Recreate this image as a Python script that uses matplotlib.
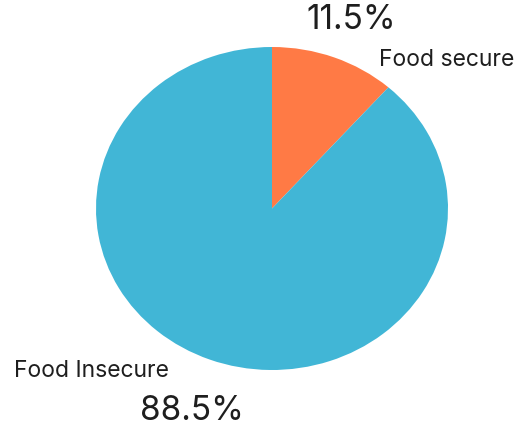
import matplotlib
matplotlib.use("Agg")
import matplotlib.pyplot as plt

# Data
labels = ["Food secure", "Food Insecure"]
shares = [11.5, 88.5]
colors = ["#FF7A45", "#41B6D6"]

W, H = 521, 428
fig = plt.figure(figsize=(W / 100, H / 100), dpi=100)
plt.rcParams['font.family'] = ['Inter', 'DejaVu Sans']

# pie axes placed so the (slightly squashed) pie fills the same box as the reference
ax = fig.add_axes([96 / W, (H - 370) / H, 352 / W, 323 / H])
ax.pie(shares, colors=colors, startangle=90, counterclock=False,
       wedgeprops=dict(linewidth=0))
ax.set_xlim(-1, 1)
ax.set_ylim(-1, 1)
ax.set_aspect('auto')
ax.axis('off')

# labels and percentages
def fx(px):
    return px / W

def fy(py):
    return 1 - py / H

fig.text(fx(351), fy(20), f"{shares[0]}%", fontsize=24, color="#1e1e1e",
         ha='center', va='center')
fig.text(fx(379), fy(60), labels[0], fontsize=16.5, color="#1e1e1e",
         ha='left', va='center')
fig.text(fx(14), fy(371), labels[1], fontsize=16.5, color="#1e1e1e",
         ha='left', va='center')
fig.text(fx(192), fy(411), f"{shares[1]}%", fontsize=24, color="#1e1e1e",
         ha='center', va='center')

fig.savefig("out.png", dpi=100)
